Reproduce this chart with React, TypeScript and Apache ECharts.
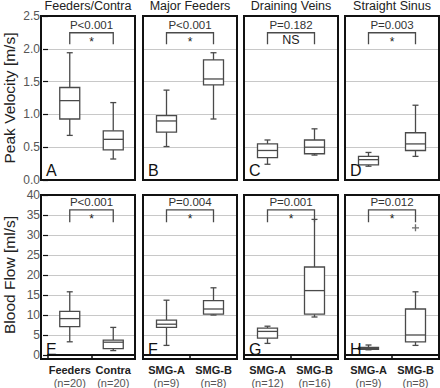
import { useEffect, useRef } from 'react';
import * as echarts from 'echarts';

const panelTitles = ['Feeders/Contra', 'Major Feeders', 'Draining Veins', 'Straight Sinus'];
const panelLetters = ['A', 'B', 'C', 'D', 'E', 'F', 'G', 'H'];
const groupNames = [['Feeders', 'Contra'], ['SMG-A', 'SMG-B'], ['SMG-A', 'SMG-B'], ['SMG-A', 'SMG-B']];
const groupCounts = [['n=20', 'n=20'], ['n=9', 'n=8'], ['n=12', 'n=16'], ['n=9', 'n=8']];
const velocityP = ['P<0.001', 'P<0.001', 'P=0.182', 'P=0.003'];
const velocitySig = ['*', '*', 'NS', '*'];
const flowP = ['P<0.001', 'P=0.004', 'P=0.001', 'P=0.012'];
const flowSig = ['*', '*', '*', '*'];

// [min, Q1, median, Q3, max] per group
const velocityBoxes = [
  [[0.68, 0.93, 1.21, 1.41, 1.94], [0.32, 0.46, 0.62, 0.75, 1.18]],
  [[0.51, 0.73, 0.9, 0.98, 1.37], [0.93, 1.45, 1.54, 1.83, 1.94]],
  [[0.24, 0.34, 0.45, 0.55, 0.61], [0.38, 0.4, 0.5, 0.61, 0.78]],
  [[0.21, 0.23, 0.31, 0.36, 0.42], [0.36, 0.45, 0.55, 0.72, 1.14]],
];
const flowBoxes = [
  [[3.3, 7.1, 9.1, 10.9, 15.8], [1.1, 1.6, 3.2, 3.7, 6.9]],
  [[2.4, 6.9, 7.7, 8.7, 13.7], [10.0, 10.2, 11.5, 13.6, 16.8]],
  [[2.9, 4.2, 5.9, 6.7, 7.2], [9.5, 10.2, 16.1, 22.0, 33.9]],
  [[1.3, 1.4, 1.6, 1.9, 2.5], [2.4, 3.3, 5.0, 11.5, 15.8]],
];
const flowOutliers = [[], [], [], [[1, 31.8]]];

const velocityAxis = { min: 0, max: 2.5, interval: 0.5, name: 'Peak Velocity [m/s]', digits: 1 };
const flowAxis = { min: 0, max: 40, interval: 5, name: 'Blood Flow [ml/s]', digits: 0 };
const velocityBracket = [2.07, 2.245];
const flowBracket = [33.2, 36.3];

const FONT = '"Liberation Sans", Arial, Helvetica, sans-serif';
const colLeft = [41, 143, 244, 345];
const colWidth = 94;
const rowTop = [16, 195];
const rowHeight = 164;
const INK = '#4a4a4a';

export default function App() {
  const ref = useRef<HTMLDivElement>(null);
  useEffect(() => {
    document.body.style.margin = '0';
    const chart = echarts.init(ref.current!, undefined, { renderer: 'svg' });
    const grids: any[] = [];
    const xAxes: any[] = [];
    const yAxes: any[] = [];
    const series: any[] = [];
    const graphics: any[] = [];

    for (let row = 0; row < 2; row++) {
      const axisDef = row === 0 ? velocityAxis : flowAxis;
      const boxes = row === 0 ? velocityBoxes : flowBoxes;
      const pLabels = row === 0 ? velocityP : flowP;
      const sigLabels = row === 0 ? velocitySig : flowSig;
      const bracket = row === 0 ? velocityBracket : flowBracket;
      for (let col = 0; col < 4; col++) {
        const g = row * 4 + col;
        grids.push({ left: colLeft[col], top: rowTop[row], width: colWidth, height: rowHeight, containLabel: false });
        const counts = groupCounts[col];
        xAxes.push({
          type: 'category',
          gridIndex: g,
          data: groupNames[col],
          boundaryGap: true,
          axisLine: { show: row === 1, lineStyle: { color: '#111', width: 2 } },
          axisTick: { show: row === 1, length: 4, alignWithLabel: false, lineStyle: { color: '#111', width: 1.5 } },
          axisLabel: {
            show: row === 1,
            interval: 0,
            margin: 8,
            formatter: (v: string, i: number) => `{b|${v}}\n{n|(${counts[i]})}`,
            rich: {
              b: { fontFamily: FONT, fontSize: 11, fontWeight: 'bold', color: '#222', lineHeight: 13 },
              n: { fontFamily: FONT, fontSize: 11, color: '#555', lineHeight: 13 },
            },
          },
          splitLine: { show: false },
        });
        yAxes.push({
          type: 'value',
          gridIndex: g,
          min: axisDef.min,
          max: axisDef.max,
          interval: axisDef.interval,
          name: col === 0 ? axisDef.name : '',
          nameLocation: 'middle',
          nameGap: 31,
          nameRotate: 90,
          nameTextStyle: { fontFamily: FONT, fontSize: 15.5, color: '#222' },
          axisLine: { show: false },
          axisTick: { show: col === 0, length: 5, lineStyle: { color: '#111', width: 1.2 } },
          axisLabel: {
            show: col === 0,
            margin: 8,
            fontFamily: FONT,
            fontSize: 12,
            color: '#555',
            formatter: (v: number) => v.toFixed(axisDef.digits),
          },
          splitLine: { show: true, lineStyle: { color: '#c8c8c8', width: 1 } },
        });

        // Box plots
        series.push({
          type: 'custom',
          xAxisIndex: g,
          yAxisIndex: g,
          encode: { x: 0, y: [1, 2, 3, 4, 5] },
          data: boxes[col].map((b, i) => [i, ...b]),
          z: 5,
          renderItem: (params: any, api: any) => {
            const x = api.value(0);
            const p = [1, 2, 3, 4, 5].map((k) => api.coord([x, api.value(k)]));
            const cx = p[0][0];
            const bw = 20;
            const cw = 6;
            const st = { stroke: INK, lineWidth: 1.3, fill: null };
            return {
              type: 'group',
              children: [
                { type: 'line', shape: { x1: cx, y1: p[4][1], x2: cx, y2: p[3][1] }, style: st },
                { type: 'line', shape: { x1: cx, y1: p[1][1], x2: cx, y2: p[0][1] }, style: st },
                { type: 'line', shape: { x1: cx - cw / 2, y1: p[4][1], x2: cx + cw / 2, y2: p[4][1] }, style: st },
                { type: 'line', shape: { x1: cx - cw / 2, y1: p[0][1], x2: cx + cw / 2, y2: p[0][1] }, style: st },
                {
                  type: 'rect',
                  shape: { x: cx - bw / 2, y: p[3][1], width: bw, height: Math.max(p[1][1] - p[3][1], 1) },
                  style: { stroke: INK, lineWidth: 1.3, fill: '#fff' },
                },
                { type: 'line', shape: { x1: cx - bw / 2, y1: p[2][1], x2: cx + bw / 2, y2: p[2][1] }, style: st },
              ],
            };
          },
        });

        // Significance bracket
        const pl = pLabels[col];
        const sl = sigLabels[col];
        series.push({
          type: 'custom',
          xAxisIndex: g,
          yAxisIndex: g,
          encode: { x: 0, y: [1, 2] },
          data: [[0, bracket[0], bracket[1]]],
          z: 6,
          renderItem: (params: any, api: any) => {
            const a = api.coord([0, api.value(1)]);
            const b = api.coord([0, api.value(2)]);
            const c = api.coord([1, api.value(2)]);
            const d = api.coord([1, api.value(1)]);
            const mid = (a[0] + d[0]) / 2;
            const top = b[1];
            const isStar = sl === '*';
            return {
              type: 'group',
              children: [
                {
                  type: 'polyline',
                  shape: { points: [a, b, c, d] },
                  style: { stroke: INK, lineWidth: 1.3, fill: null },
                },
                {
                  type: 'text',
                  x: mid,
                  y: top - 8,
                  style: { text: pl, fontFamily: FONT, fontSize: 11.5, fill: '#333', align: 'center', verticalAlign: 'middle' },
                },
                {
                  type: 'text',
                  x: mid,
                  y: top + (isStar ? 9.5 : 7),
                  style: { text: sl, fontFamily: FONT, fontSize: isStar ? 12 : 12.5, fill: '#222', align: 'center', verticalAlign: 'middle' },
                },
              ],
            };
          },
        });

        if (row === 1 && flowOutliers[col].length) {
          series.push({
            type: 'scatter',
            xAxisIndex: g,
            yAxisIndex: g,
            data: flowOutliers[col],
            symbol: 'path://M3,0H4.4V3H7.4V4.4H4.4V7.4H3V4.4H0V3H3Z',
            symbolSize: 7,
            itemStyle: { color: INK },
            z: 6,
          });
        }

        // Panel frame
        graphics.push({
          type: 'rect',
          shape: { x: colLeft[col], y: rowTop[row], width: colWidth, height: rowHeight },
          style: { stroke: '#111', lineWidth: 2, fill: null },
          z: 100,
        });
        // Panel letter
        graphics.push({
          type: 'text',
          x: colLeft[col] + 5,
          y: rowTop[row] + rowHeight - 2,
          style: { text: panelLetters[g], fontFamily: FONT, fontSize: 16, fill: '#111', verticalAlign: 'bottom' },
          z: 100,
        });
        if (row === 0) {
          graphics.push({
            type: 'text',
            x: colLeft[col] + colWidth / 2,
            y: 6,
            style: { text: panelTitles[col], fontFamily: FONT, fontSize: 12.5, fill: '#222', align: 'center', verticalAlign: 'middle' },
            z: 100,
          });
        }
      }
    }

    chart.setOption({
      animation: false,
      backgroundColor: '#fff',
      grid: grids,
      xAxis: xAxes,
      yAxis: yAxes,
      series,
      graphic: graphics,
    });
    return () => chart.dispose();
  }, []);
  return <div ref={ref} style={{ width: 440, height: 388 }} />;
}
